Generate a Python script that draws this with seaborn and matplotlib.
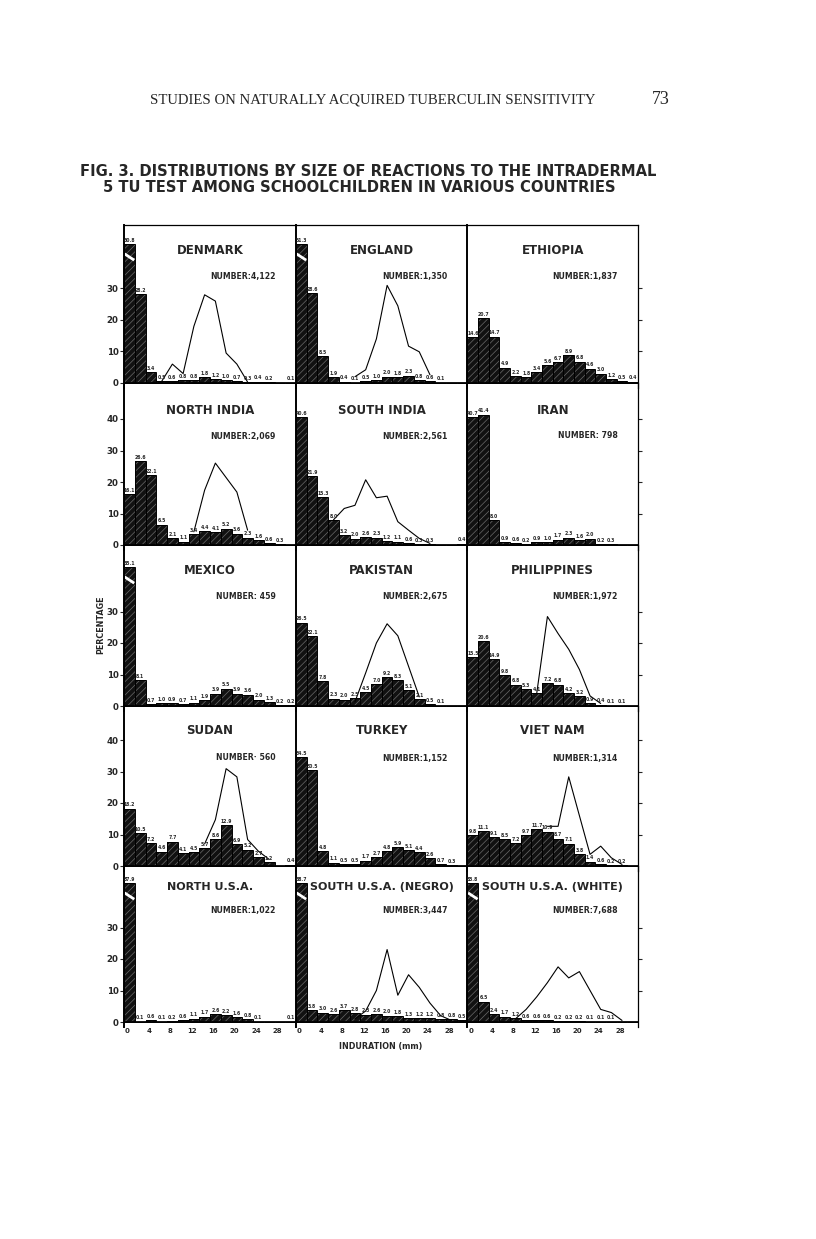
import matplotlib
matplotlib.use("Agg")
import matplotlib.pyplot as plt
import seaborn as sns

# 2 mm classes of induration (0-1, 2-3, ... 30-31), plotted at class centres in mm
BIN_MM = [1, 3, 5, 7, 9, 11, 13, 15, 17, 19, 21, 23, 25, 27, 29, 31]
X_TICKS = [0, 4, 8, 12, 16, 20, 24, 28]

TITLES = ["DENMARK", "ENGLAND", "ETHIOPIA",
          "NORTH INDIA", "SOUTH INDIA", "IRAN",
          "MEXICO", "PAKISTAN", "PHILIPPINES",
          "SUDAN", "TURKEY", "VIET NAM",
          "NORTH U.S.A.", "SOUTH U.S.A. (NEGRO)", "SOUTH U.S.A. (WHITE)"]
NUMBERS = ["NUMBER:4,122", "NUMBER:1,350", "NUMBER:1,837",
           "NUMBER:2,069", "NUMBER:2,561", "NUMBER: 798",
           "NUMBER: 459", "NUMBER:2,675", "NUMBER:1,972",
           "NUMBER· 560", "NUMBER:1,152", "NUMBER:1,314",
           "NUMBER:1,022", "NUMBER:3,447", "NUMBER:7,688"]

# percentage of children in each class (bars)
DENMARK = [60.8, 28.2, 3.4, 0.5, 0.6, 0.8, 0.8, 1.8, 1.2, 1.0, 0.7, 0.3, 0.4, 0.2, 0, 0.1]
ENGLAND = [51.3, 28.6, 8.5, 1.9, 0.4, 0.1, 0.5, 1.0, 2.0, 1.8, 2.3, 0.8, 0.6, 0.1, 0, 0]
ETHIOPIA = [14.6, 20.7, 14.7, 4.9, 2.2, 1.8, 3.4, 5.6, 6.7, 8.9, 6.8, 4.6, 3.0, 1.2, 0.5, 0.4]
NORTH_INDIA = [16.1, 26.6, 22.1, 6.5, 2.1, 1.1, 3.4, 4.4, 4.1, 5.2, 3.6, 2.3, 1.6, 0.6, 0.3, 0]
SOUTH_INDIA = [40.6, 21.9, 15.3, 8.0, 3.2, 2.0, 2.6, 2.3, 1.2, 1.1, 0.6, 0.3, 0.3, 0, 0, 0.4]
IRAN = [40.7, 41.4, 8.0, 0.9, 0.6, 0.2, 0.9, 1.0, 1.7, 2.3, 1.6, 2.0, 0.2, 0.3, 0, 0]
MEXICO = [65.1, 8.1, 0.7, 1.0, 0.9, 0.7, 1.1, 1.9, 3.9, 5.5, 3.9, 3.6, 2.0, 1.3, 0.2, 0.2]
PAKISTAN = [26.5, 22.1, 7.8, 2.3, 2.0, 2.5, 4.5, 7.0, 9.2, 8.3, 5.1, 2.1, 0.5, 0.1, 0, 0]
PHILIPPINES = [15.5, 20.6, 14.9, 9.8, 6.8, 5.3, 4.1, 7.2, 6.8, 4.2, 3.2, 0.9, 0.4, 0.1, 0.1, 0]
SUDAN = [18.2, 10.5, 7.2, 4.6, 7.7, 4.1, 4.5, 5.7, 8.6, 12.9, 6.9, 5.2, 2.7, 1.2, 0, 0.4]
TURKEY = [34.5, 30.5, 4.8, 1.1, 0.5, 0.5, 1.7, 2.7, 4.8, 5.9, 5.1, 4.4, 2.6, 0.7, 0.3, 0]
VIET_NAM = [9.8, 11.1, 9.1, 8.5, 7.2, 9.7, 11.7, 10.9, 8.7, 7.1, 3.8, 1.4, 0.6, 0.2, 0.2, 0]
NORTH_USA = [87.9, 0.1, 0.6, 0.1, 0.2, 0.6, 1.1, 1.7, 2.6, 2.2, 1.6, 0.8, 0.1, 0, 0, 0.1]
SOUTH_USA_NEGRO = [68.7, 3.8, 3.0, 2.6, 3.7, 2.8, 2.3, 2.6, 2.0, 1.8, 1.3, 1.2, 1.2, 0.8, 0.8, 0.5]
SOUTH_USA_WHITE = [83.8, 6.5, 2.4, 1.7, 1.2, 0.6, 0.6, 0.6, 0.2, 0.2, 0.2, 0.1, 0.1, 0.1, 0, 0]

# the thin line drawn over some panels (None = no point)
_ = None
DENMARK_LINE = [_, _, _, 0.5, 6, 3, 18, 28, 26, 9.5, 6, 0.3, _, _, _, _]
ENGLAND_LINE = [_, _, _, _, _, 2, 4.2, 14, 31, 24.5, 11.7, 9.9, 2.6, _, _, _]
NORTH_INDIA_LINE = [_, _, _, _, _, _, 4.2, 17.4, 26, 21.4, 16.8, 4.7, _, _, _, _]
SOUTH_INDIA_LINE = [_, _, _, 8.0, 11.6, 12.6, 20.7, 15.0, 15.5, 7.4, 4.7, 2.1, 0.5, _, _, _]
PAKISTAN_LINE = [_, _, _, _, _, 1.3, 10.5, 20, 26.1, 22.3, 12.6, 2.9, _, _, _, _]
PHILIPPINES_LINE = [_, _, _, _, _, _, 4.1, 28.4, 23.0, 18.0, 11.6, 3.2, 0.8, _, _, _]
SUDAN_LINE = [_, _, _, _, _, _, _, 7, 14.7, 30.9, 28.3, 8.4, 4.7, 2.1, _, _]
VIET_NAM_LINE = [_, _, _, _, _, _, _, 12.6, 12.6, 28.3, 16.0, 3.7, 6.3, 2.6, 0.5, _]
NEGRO_LINE = [_, _, _, _, _, 1.0, 3.5, 10, 23, 8.5, 15, 11, 6, 2, 0.5, _]
WHITE_LINE = [_, _, _, _, 1, 4, 8, 12.5, 17.5, 14, 16, 10, 4, 3, 0.5, _]

BARS = [DENMARK, ENGLAND, ETHIOPIA, NORTH_INDIA, SOUTH_INDIA, IRAN,
        MEXICO, PAKISTAN, PHILIPPINES, SUDAN, TURKEY, VIET_NAM,
        NORTH_USA, SOUTH_USA_NEGRO, SOUTH_USA_WHITE]
LINES = [DENMARK_LINE, ENGLAND_LINE, None, NORTH_INDIA_LINE, SOUTH_INDIA_LINE, None,
         None, PAKISTAN_LINE, PHILIPPINES_LINE, SUDAN_LINE, None, VIET_NAM_LINE,
         None, NEGRO_LINE, WHITE_LINE]
ROW_YTICKS = [[0, 10, 20, 30], [0, 10, 20, 30, 40], [0, 10, 20, 30],
              [0, 10, 20, 30, 40], [0, 10, 20, 30]]

# page layout in pixels
W, H = 816, 1239
COL_X = [124, 296, 467.5, 638]
ROW_Y = [225, 383, 545, 706, 866, 1022]   # top frame, then each row's baseline
TITLE_DY = [26, 27, 25, 24, 21]
TITLE_SIZE = [8.5, 8.5, 8.5, 8.5, 8.0]
NUM_DY = [51, 53, 52, 52, 45]
PX_PER_UNIT = 3.15
EXT = 5      # frame lines run a little below each baseline
CAP = 44     # taller bars are drawn broken

sns.set_theme(style="white")
plt.rcParams["font.family"] = ["DejaVu Sans"]
plt.rcParams["hatch.linewidth"] = 0.5

fig = plt.figure(figsize=(W / 100, H / 100), dpi=100)
fig.patch.set_facecolor("white")


def fx(px):
    return px / W


def fy(py):
    return 1 - py / H


for k, (title, number, bars, line) in enumerate(zip(TITLES, NUMBERS, BARS, LINES)):
    r, c = divmod(k, 3)
    top, base = ROW_Y[r], ROW_Y[r + 1]
    left, right = COL_X[c], COL_X[c + 1]
    ax = fig.add_axes([fx(left), fy(base + EXT), (right - left) / W, (base + EXT - top) / H])
    ax.set_facecolor("none")

    shown = [min(v, CAP) for v in bars]
    sns.barplot(x=BIN_MM, y=shown, native_scale=True, orient="x", width=1,
                color="#111111", edgecolor="#6a6a6a", hatch="/////", linewidth=0,
                errorbar=None, ax=ax)
    sns.barplot(x=BIN_MM, y=shown, native_scale=True, orient="x", width=1,
                color="black", fill=False, linewidth=0.7, errorbar=None, ax=ax)

    for x, v, h in zip(BIN_MM, bars, shown):
        if v > CAP:
            ax.plot([x - 0.9, x + 0.9], [h - 3, h - 5], color="white", lw=2,
                    solid_capstyle="butt")
        if v > 0:
            ax.text(x, h + 0.4, f"{v:.1f}", ha="center", va="bottom",
                    fontsize=3.3, fontweight="bold")

    if line is not None:
        lx = [x for x, y in zip(BIN_MM, line) if y is not None]
        ly = [y for y in line if y is not None]
        sns.lineplot(x=lx, y=ly, color="black", linewidth=0.8, sort=False, ax=ax)

    ax.set_xlim(0, 32)
    ax.set_ylim(-EXT / PX_PER_UNIT, (base - top) / PX_PER_UNIT)
    ax.axhline(0, color="black", lw=1.3)
    for s in ax.spines.values():
        s.set_visible(False)
    ax.spines["left"].set_visible(True)
    ax.spines["left"].set_color("black")
    ax.spines["left"].set_linewidth(1.4)
    if c == 2:
        ax.spines["right"].set_visible(True)
        ax.spines["right"].set_color("black")
        ax.spines["right"].set_linewidth(0.9)
    if r == 0:
        ax.spines["top"].set_visible(True)
        ax.spines["top"].set_color("black")
        ax.spines["top"].set_linewidth(0.9)
    ax.set_xlabel("")
    ax.set_ylabel("")

    if c == 0:
        ax.set_yticks(ROW_YTICKS[r])
        ax.set_yticklabels([str(t) for t in ROW_YTICKS[r]], fontsize=6.2, fontweight="bold")
        ax.tick_params(axis="y", left=True, length=3, width=0.8, pad=1)
    elif c == 2:
        ax.set_yticks(ROW_YTICKS[r][1:])
        ax.yaxis.set_ticks_position("right")
        ax.tick_params(axis="y", right=True, length=3, width=0.8, labelright=False)
    else:
        ax.set_yticks([])

    if r == 4:
        ax.set_xticks([t + 0.6 for t in X_TICKS])
        ax.set_xticklabels([str(t) for t in X_TICKS], fontsize=5, fontweight="bold")
        ax.tick_params(axis="x", length=0, pad=1)
    else:
        ax.set_xticks([])

    fig.text(fx((left + right) / 2), fy(top + TITLE_DY[r]), title, ha="center",
             va="center", fontsize=TITLE_SIZE[r], fontweight="bold")
    fig.text(fx(right - 20), fy(top + NUM_DY[r]), number, ha="right", va="center",
             fontsize=5.6, fontweight="bold")

fig.text(fx(101), fy(625), "PERCENTAGE", rotation=90, ha="center", va="center",
         fontsize=5.8, fontweight="bold")
fig.text(fx(381), fy(1047), "INDURATION (mm)", ha="center", va="center",
         fontsize=5.8, fontweight="bold")

fig.text(fx(373), fy(100), "STUDIES ON NATURALLY ACQUIRED TUBERCULIN SENSITIVITY",
         ha="center", va="center", fontsize=10.6, family="Liberation Serif")
fig.text(fx(661), fy(100), "73", ha="center", va="center", fontsize=13,
         family="Liberation Serif")
fig.text(fx(80), fy(172), "FIG. 3. DISTRIBUTIONS BY SIZE OF REACTIONS TO THE INTRADERMAL",
         ha="left", va="center", fontsize=10.6, fontweight="bold")
fig.text(fx(103), fy(188), "5 TU TEST AMONG SCHOOLCHILDREN IN VARIOUS COUNTRIES",
         ha="left", va="center", fontsize=10.6, fontweight="bold")

fig.savefig("out.png", dpi=100, facecolor="white")
